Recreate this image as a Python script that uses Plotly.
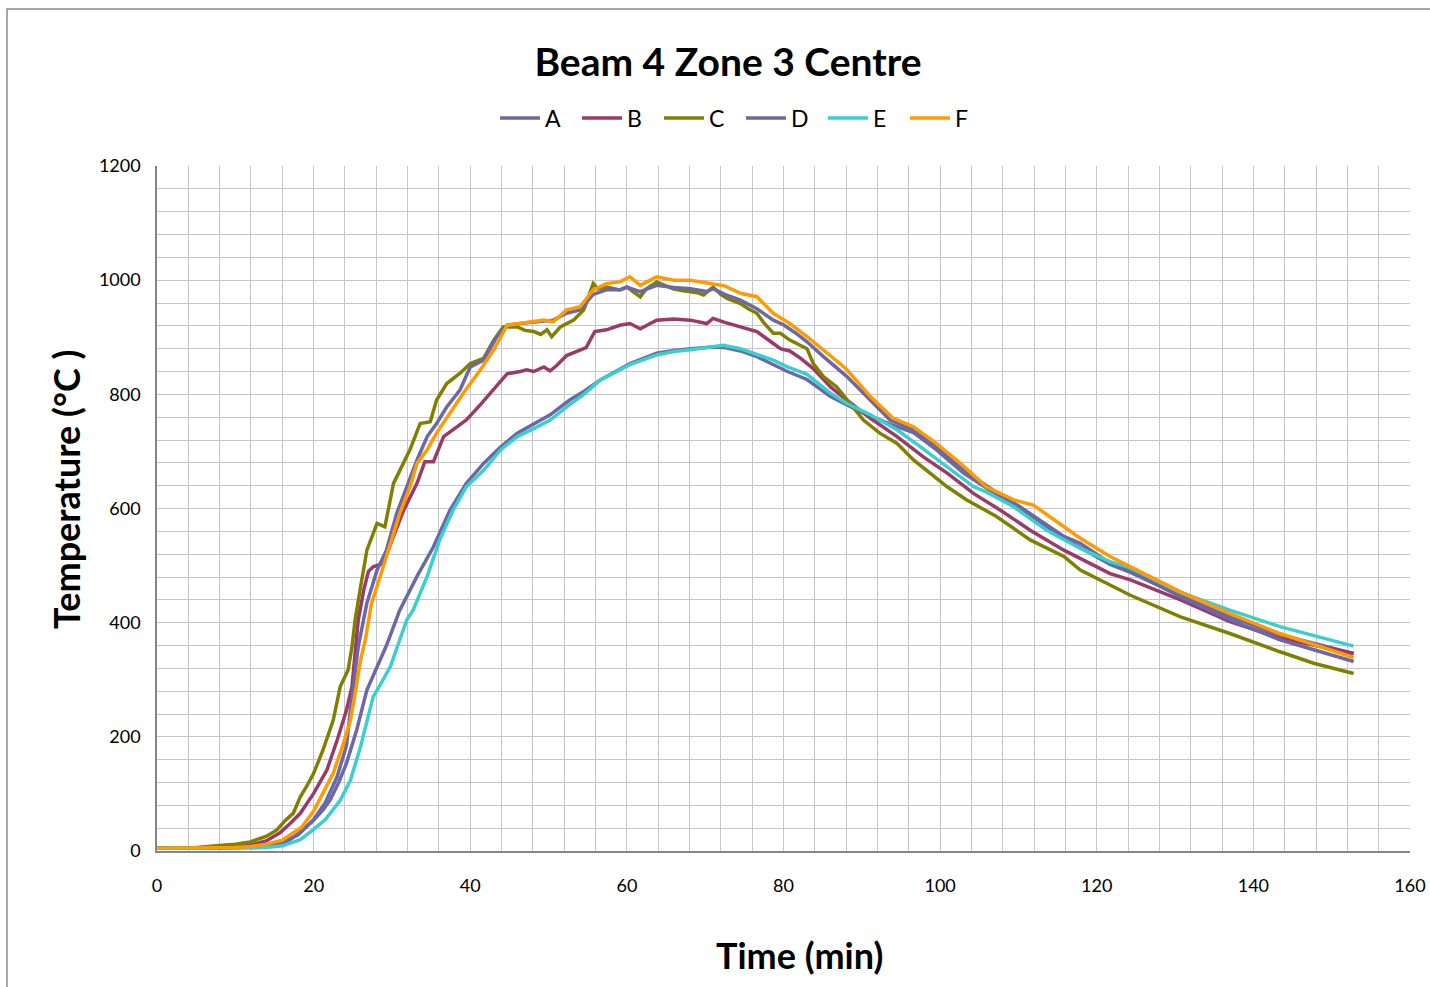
import plotly.graph_objects as go

# ---- data (time in min, temperature in °C) ----
t_A = [0, 8, 12, 14, 16, 17, 18.5, 20.0, 21.2, 22.1, 23.2, 24.2, 25.5, 26.8, 28.1, 28.9, 29.3, 30.4, 31.0, 33.2, 35.3, 37.4, 39.5, 41.7, 43.9, 46.0, 48.1, 50.2, 52.7, 54.5, 56.6, 59.1, 60.4, 63.8, 66, 68.1, 71.0, 72.5, 74.5, 76.6, 78.7, 80.5, 83.0, 86.0, 90.2, 93.6, 96.6, 99.5, 103.0, 106.8, 110.2, 115.8, 121.7, 124.3, 130.7, 137.0, 143.4, 152.8]
A = [5, 5, 6, 7, 12, 20, 35, 54, 72, 89, 120, 154, 212, 282, 323, 350, 360, 400, 422, 481, 533, 597, 644, 679, 708, 732, 748, 764, 790, 805, 825, 845, 854, 872, 877, 880, 883, 882, 876, 866, 852, 840, 826, 796, 767, 748, 733, 703, 662, 628, 598, 548, 502, 488, 447, 410, 379, 346]

t_B = [0, 8, 10, 11.9, 14, 15.7, 17, 18.3, 20.0, 21.7, 23.0, 24.2, 24.9, 25.3, 25.7, 26.4, 27.0, 27.6, 28.3, 28.9, 30.2, 31.5, 33.2, 34.2, 35.3, 36.6, 38.3, 39.5, 41.3, 43.0, 44.7, 46.4, 47.2, 48.1, 49.4, 50.2, 51.0, 52.3, 54.0, 54.8, 55.9, 57.4, 59.1, 60.4, 61.7, 63.8, 66, 68.1, 70.2, 71.0, 72.5, 74.5, 76.6, 78.7, 79.6, 80.8, 82.2, 83.8, 86.0, 88.1, 91.1, 94.5, 97.9, 100.9, 104.3, 107.7, 111.5, 115.8, 117.9, 121.7, 124.3, 130.7, 137.0, 143.4, 152.8]
B = [5, 5, 7, 10, 18, 32, 48, 66, 101, 142, 194, 247, 288, 346, 405, 457, 490, 498, 502, 504, 551, 597, 644, 682, 682, 726, 743, 755, 782, 808, 836, 840, 843, 840, 848, 841, 850, 868, 878, 882, 910, 913, 921, 924, 915, 930, 932, 930, 924, 933, 926, 918, 910, 889, 880, 876, 863, 845, 813, 790, 758, 726, 690, 662, 626, 597, 562, 527, 512, 486, 475, 440, 402, 373, 346]

t_C = [0, 4, 7.6, 10, 11.9, 14, 15.3, 16.5, 17.4, 18.3, 19.1, 20.0, 21.2, 22.5, 23.4, 24.4, 24.9, 25.3, 26.0, 26.8, 28.1, 29.1, 30.2, 31.0, 32.3, 33.6, 34.9, 35.7, 37.0, 38.7, 40.0, 41.7, 43.0, 44.2, 46.0, 47.0, 48.1, 49.0, 49.8, 50.4, 51.5, 53.2, 54.5, 55.7, 56.3, 57.4, 59.1, 60.0, 61.0, 61.7, 62.5, 63.8, 65.0, 65.9, 67.0, 68.1, 69.0, 69.8, 71.0, 72.0, 72.8, 74.5, 75.5, 76.6, 77.5, 78.7, 79.6, 80.8, 81.7, 83.0, 83.8, 85.1, 86.8, 88.1, 90.2, 92.3, 94.5, 96.6, 98.7, 100.9, 103.4, 107.2, 111.5, 115.8, 117.9, 121.7, 124.3, 130.7, 137.0, 143.4, 147.7, 152.8]
C = [5, 5, 9, 12, 16, 26, 37, 55, 66, 95, 113, 136, 177, 229, 288, 317, 358, 405, 463, 527, 574, 568, 644, 667, 703, 749, 752, 790, 819, 837, 854, 863, 895, 918, 918, 912, 910, 905, 913, 901, 918, 930, 948, 994, 985, 988, 983, 988, 978, 971, 985, 997, 990, 985, 982, 980, 978, 974, 988, 975, 968, 959, 950, 942, 925, 907, 907, 895, 889, 880, 854, 831, 813, 790, 755, 732, 714, 685, 662, 638, 615, 586, 545, 516, 492, 466, 448, 410, 381, 349, 329, 311]

t_D = [0, 6, 10, 12, 14, 16, 18, 20, 21.5, 23, 24.2, 24.6, 25.7, 26.8, 28.1, 29.3, 30.6, 31.9, 33.2, 34.5, 35.7, 37.0, 38.7, 40.0, 41.7, 43.4, 44.7, 46.4, 48.9, 50.6, 52.3, 54.0, 55.7, 57.4, 59.1, 60.0, 61.7, 63.8, 66.0, 68.1, 70.2, 71.0, 72.5, 74.5, 76.6, 78.7, 80.0, 81.5, 83.0, 85.1, 88.1, 91.1, 93.6, 96.6, 99.5, 103.0, 106.8, 110.2, 115.8, 117.9, 121.7, 124.3, 130.7, 137.0, 143.4, 152.8]
D = [5, 5, 6, 7, 10, 15, 28, 55, 85, 130, 185, 235, 358, 434, 492, 527, 591, 638, 685, 726, 749, 778, 808, 848, 860, 901, 921, 924, 927, 930, 942, 948, 975, 983, 983, 988, 980, 991, 987, 985, 980, 985, 975, 965, 950, 930, 922, 908, 892, 866, 831, 790, 755, 738, 708, 667, 632, 603, 551, 539, 504, 492, 445, 405, 370, 332]

t_E = [0, 8, 12, 14, 16, 18.3, 20, 21.5, 23.4, 24.7, 26.0, 26.8, 27.6, 28.5, 29.8, 31.0, 31.9, 32.7, 34.5, 36.1, 37.8, 39.5, 41.7, 43.9, 46.0, 48.1, 50.2, 52.7, 54.5, 56.6, 59.1, 60.4, 63.8, 66, 68.1, 71.0, 72.3, 74.5, 76.6, 78.7, 80.5, 83.0, 86.0, 88.1, 91.1, 94.5, 97.5, 100.9, 104.3, 105.9, 109.4, 113.6, 117.9, 121.7, 124.3, 130.7, 137.0, 143.4, 152.8]
E = [5, 5, 5, 6, 9, 20, 38, 55, 89, 124, 183, 229, 270, 291, 323, 370, 405, 422, 481, 545, 597, 638, 667, 703, 726, 740, 755, 782, 800, 825, 843, 852, 869, 875, 878, 883, 886, 880, 870, 860, 848, 835, 802, 784, 764, 738, 708, 673, 638, 629, 603, 562, 530, 507, 496, 453, 422, 393, 359]

t_F = [0, 6, 10, 12, 14, 16, 18.5, 20.0, 21.2, 22.5, 23.8, 24.7, 25.3, 26.0, 26.6, 27.4, 28.5, 29.8, 31.0, 32.3, 33.2, 34.5, 35.7, 37.4, 39.1, 41.3, 43.0, 44.7, 46.4, 48.0, 49.4, 50.6, 52.3, 54.0, 55.7, 57.4, 59.1, 60.4, 61.7, 63.8, 66.0, 68.1, 71.0, 72.5, 74.5, 76.6, 78.7, 80.8, 83.0, 85.1, 87.2, 88.1, 91.1, 94.0, 96.6, 99.5, 102.6, 105.9, 109.4, 111.9, 115.8, 117.9, 121.7, 124.3, 130.7, 137.0, 143.4, 152.8]
F = [5, 5, 6, 8, 12, 19, 42, 70, 101, 136, 188, 229, 276, 335, 370, 434, 481, 539, 591, 638, 679, 703, 732, 767, 802, 843, 878, 921, 924, 926, 930, 927, 948, 953, 983, 994, 997, 1006, 991, 1006, 1000, 1000, 994, 990, 977, 971, 942, 924, 901, 878, 854, 843, 796, 758, 743, 714, 679, 638, 615, 606, 568, 548, 516, 498, 454, 416, 381, 339]

names = ["A", "B", "C", "D", "E", "F"]
colors = ["#6B68A6", "#9B3A68", "#808000", "#6B68A6", "#3ACFCF", "#FF9A00"]
series = [(t_A, A), (t_B, B), (t_C, C), (t_D, D), (t_E, E), (t_F, F)]

x_ticks = [0, 20, 40, 60, 80, 100, 120, 140, 160]
y_ticks = [0, 200, 400, 600, 800, 1000, 1200]

FONT = "Lato, 'Open Sans', sans-serif"
W, H = 1430, 987
L, R, T, Bm = 157, 20, 166, 136

fig = go.Figure()
for (tx, ty), nm, col in zip(series, names, colors):
    fig.add_trace(go.Scatter(x=tx, y=ty, mode="lines", name=nm,
                             line=dict(color=col, width=3.5)))

grid_col = "#C6C6C6"
fig.update_layout(
    width=W, height=H,
    margin=dict(l=L, r=R, t=T, b=Bm, autoexpand=False),
    paper_bgcolor="white", plot_bgcolor="white",
    font=dict(family=FONT, color="black"),
    title=dict(text="<b>Beam 4 Zone 3 Centre</b>", font=dict(size=39, family=FONT),
               x=728 / W, xref="container", xanchor="center",
               y=1 - 62 / H, yref="container", yanchor="middle"),
    legend=dict(orientation="h", xref="container", yref="container",
                x=741 / W, xanchor="center", y=1 - 118 / H, yanchor="middle",
                font=dict(size=23, family=FONT), entrywidth=27, entrywidthmode="pixels",
                itemwidth=40, bgcolor="rgba(0,0,0,0)"),
    showlegend=True,
)
fig.update_xaxes(range=[0, 160], tickvals=x_ticks, ticktext=[str(v) for v in x_ticks],
                 showgrid=True, gridcolor=grid_col, gridwidth=1,
                 minor=dict(dtick=4, showgrid=True, gridcolor=grid_col, gridwidth=1),
                 zeroline=False, showline=True, linecolor="#868686", linewidth=1.5,
                 automargin=False,
                 ticks="", tickfont=dict(size=18, family=FONT), ticklabelstandoff=18)
fig.update_yaxes(range=[0, 1200], tickvals=y_ticks, ticktext=[str(v) for v in y_ticks],
                 showgrid=True, gridcolor=grid_col, gridwidth=1,
                 minor=dict(dtick=40, showgrid=True, gridcolor=grid_col, gridwidth=1),
                 zeroline=False, showline=True, linecolor="#868686", linewidth=1.5,
                 automargin=False,
                 ticks="", tickfont=dict(size=18, family=FONT), ticklabelstandoff=11)

pw = W - L - R
ph = H - T - Bm
# axis titles
fig.add_annotation(text="<b>Time (min)</b>", xref="paper", yref="paper",
                   x=(799 - L) / pw, y=(H - Bm - 955) / ph, showarrow=False,
                   xanchor="center", yanchor="middle", font=dict(size=36, family=FONT))
fig.add_annotation(text="<b>Temperature (°C )</b>", xref="paper", yref="paper",
                   x=(66 - L) / pw, y=(H - Bm - 489) / ph, showarrow=False, textangle=-90,
                   xanchor="center", yanchor="middle", font=dict(size=36, family=FONT))
# chart-area border
fig.add_shape(type="rect", xref="paper", yref="paper",
              x0=(7 - L) / pw, x1=(1440 - L) / pw,
              y0=(H - Bm - 1000) / ph, y1=(H - Bm - 9) / ph,
              line=dict(color="#8C8C8C", width=1.5), fillcolor="rgba(0,0,0,0)", layer="below")

fig.write_html("out.html")
